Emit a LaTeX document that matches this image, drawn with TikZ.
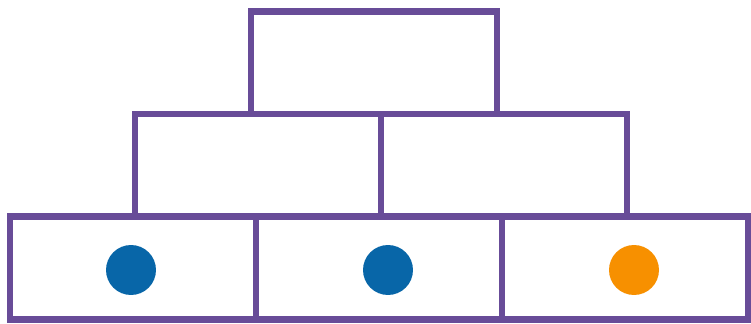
\documentclass[tikz,border=0pt]{standalone}
\usetikzlibrary{positioning}
\definecolor{brickpurple}{RGB}{104,76,152}
\definecolor{dotblue}{RGB}{8,102,168}
\definecolor{dotorange}{RGB}{247,144,0}
\tikzset{
  brk/.style={rectangle,draw=brickpurple,fill=white,line width=3.7pt,minimum width=4.92cm,minimum height=2.06cm,inner sep=0pt,outer sep=0pt},
  dot/.style={circle,minimum size=1.0cm,inner sep=0pt},
}
\begin{document}
\begin{tikzpicture}[x=0.02cm,y=-0.02cm]
\useasboundingbox (0,0) rectangle (751,324);
% top brick
\node[brk] (t1) at (374,63) {};
% middle row
\foreach \x/\n in {258/1, 504/2}
  \node[brk] (m\n) at (\x,165.5) {};
% bottom row
\foreach \x/\n in {133/1, 379/2, 625/3}
  \node[brk] (b\n) at (\x,268) {};
% dots in the bottom bricks
\node[dot,fill=dotblue] (d1) at (131,270) {};
\node[dot,fill=dotblue] (d2) at (388,270) {};
\node[dot,fill=dotorange] (d3) at (634,270) {};
\end{tikzpicture}
\end{document}
